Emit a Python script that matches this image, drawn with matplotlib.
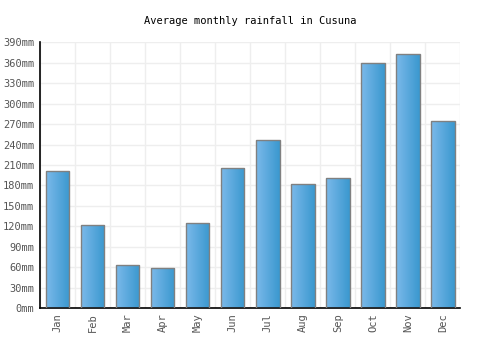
import numpy as np
import matplotlib.pyplot as plt
from matplotlib.colors import LinearSegmentedColormap

months = ["Jan", "Feb", "Mar", "Apr", "May", "Jun",
          "Jul", "Aug", "Sep", "Oct", "Nov", "Dec"]
rainfall = [201, 122, 63, 58, 125, 206, 247, 182, 191, 359, 373, 275]
yticks = list(range(0, 391, 30))

def main():
    plt.rcParams['font.family'] = ['DejaVu Sans Mono']
    fig = plt.figure(figsize=(5, 3.5), dpi=100)
    ax = fig.add_axes([0.08, 0.12, 0.841, 0.759])

    x = np.arange(len(months))
    bars = ax.bar(x, rainfall, width=0.67, facecolor='none',
                  edgecolor='#808080', linewidth=1.0, zorder=3)

    # -- gradient fill, light on the left to darker on the right --
    cmap = LinearSegmentedColormap.from_list("rain", ["#7bb9ea", "#3a98cf"])
    grad = np.linspace(0, 1, 64).reshape(1, -1)
    for b in bars:
        x0, w, h = b.get_x(), b.get_width(), b.get_height()
        im = ax.imshow(grad, cmap=cmap, aspect='auto',
                       extent=(x0, x0 + w, 0, h), zorder=2,
                       interpolation='bilinear')
        im.set_clip_path(b)

    ax.set_xlim(-0.5, len(months) - 0.5)
    ax.set_ylim(0, 390)
    ax.set_yticks(yticks)
    ax.set_yticklabels([f"{v}mm" for v in yticks])
    ax.set_xticks(x)
    ax.set_xticklabels(months, rotation=90)
    ax.set_xticks(np.arange(-0.5, len(months), 1), minor=True)

    ax.grid(True, axis='y', color='#eeeeee', linewidth=1, zorder=0)
    ax.grid(True, axis='x', which='minor', color='#eeeeee', linewidth=1, zorder=0)
    ax.set_axisbelow(True)

    ax.tick_params(axis='both', which='both', length=0, labelsize=7.5,
                   labelcolor='#555555', pad=4)
    for s in ['top', 'right']:
        ax.spines[s].set_visible(False)
    for s in ['left', 'bottom']:
        ax.spines[s].set_color('black')
        ax.spines[s].set_linewidth(1.2)

    fig.text(0.5, 0.94, "Average monthly rainfall in Cusuna", ha='center',
             va='center', fontsize=7.5, color='black')

    plt.savefig("out.png", dpi=100)
    plt.close("all")

if __name__ == "__main__":
    main()
